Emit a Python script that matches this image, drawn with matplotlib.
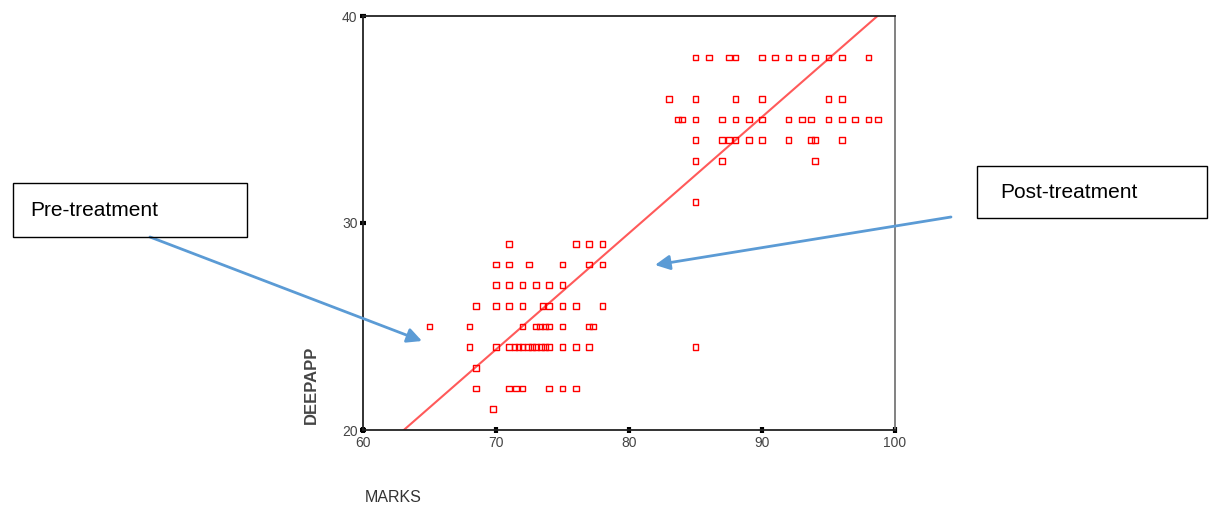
import numpy as np
import matplotlib.pyplot as plt
from matplotlib.patches import Rectangle

plt.rcParams['font.family'] = ['Liberation Sans', 'DejaVu Sans']

# ============= data =============
# each row of the scatter is one DEEPAPP score, listed with its MARKS values
rows = {
    38: [85, 86, 87.5, 88, 90, 91, 92, 93, 94, 95, 96, 98],
    36: [83, 85, 88, 90, 95, 96],
    35: [83.7, 84, 85, 87, 88, 89, 90, 92, 93, 93.7, 95, 96, 97, 98, 98.7],
    34: [85, 87, 87.5, 88, 89, 90, 92, 93.7, 94, 96],
    33: [85, 87, 94],
    31: [85],
    29: [71, 76, 77, 78],
    28: [70, 71, 72.5, 75, 77, 78],
    27: [70, 71, 72, 73, 74, 75],
    26: [68.5, 70, 71, 72, 73.5, 74, 75, 76, 78],
    25: [65, 68, 72, 73, 73.3, 73.7, 74, 75, 77, 77.3],
    24: [68, 70, 71, 71.4, 71.7, 72, 72.4, 72.7, 73, 73.4, 73.7, 74, 75, 76, 77, 85],
    23: [68.5],
    22: [68.5, 71, 71.5, 72, 74, 75, 76],
    21: [69.8],
}
marks = np.array([x for y, xs in rows.items() for x in xs])
deepapp = np.array([y for y, xs in rows.items() for x in xs])

# fit line as drawn in the source chart
fit_slope = 0.5616
fit_intercept = -15.42

x_ticks = [60, 70, 80, 90, 100]
y_ticks = [20, 30, 40]

# ============= plotting =============
fig = plt.figure(figsize=(12.16, 5.11), dpi=100)
ax = fig.add_axes([363 / 1216, 81 / 511, 532 / 1216, 414 / 511])

ax.scatter(marks, deepapp, marker='s', s=17, facecolors='none',
           edgecolors='red', linewidths=1.0, zorder=3)

line_x = np.array([60, 100])
ax.plot(line_x, fit_slope * line_x + fit_intercept, color='#ff5a5a', lw=1.5, zorder=2)

ax.set_xlim(60, 100)
ax.set_ylim(20, 40)
ax.set_xticks(x_ticks)
ax.set_yticks(y_ticks)
ax.tick_params(direction='inout', length=4, width=3, labelsize=10,
               labelcolor='#444444', pad=2)
for side in ['left', 'bottom', 'top']:
    ax.spines[side].set_linewidth(1.3)
    ax.spines[side].set_color('#222222')
ax.spines['right'].set_color('#777777')
ax.spines['right'].set_linewidth(1.3)

# axis titles sit away from the axes, like in the source
fig.text(304, 126, 'DEEPAPP', transform=None, rotation=90, fontsize=12,
         fontweight='bold', color='#444444', ha='left', va='center')
fig.text(365, 14, 'MARKS', transform=None, fontsize=11.5,
         color='#333333', ha='left', va='center')

# annotation boxes
fig.patches.append(Rectangle((13, 274), 234, 54, transform=None,
                             fill=False, edgecolor='black', lw=1.0))
fig.text(30, 301, 'Pre-treatment', transform=None, fontsize=15,
         ha='left', va='center')
fig.patches.append(Rectangle((977, 293), 230, 52, transform=None,
                             fill=False, edgecolor='black', lw=1.0))
fig.text(1000, 319, 'Post-treatment', transform=None, fontsize=15,
         ha='left', va='center')

arrow_style = dict(arrowstyle='-|>', color='#5b9bd5', lw=2, mutation_scale=22,
                   shrinkA=0, shrinkB=0)
ax.annotate('', xy=(422, 170), xycoords='figure pixels',
            xytext=(150, 274), textcoords='figure pixels', arrowprops=arrow_style)
ax.annotate('', xy=(655, 246), xycoords='figure pixels',
            xytext=(951, 294), textcoords='figure pixels', arrowprops=arrow_style)

fig.savefig('out.png', dpi=100)
